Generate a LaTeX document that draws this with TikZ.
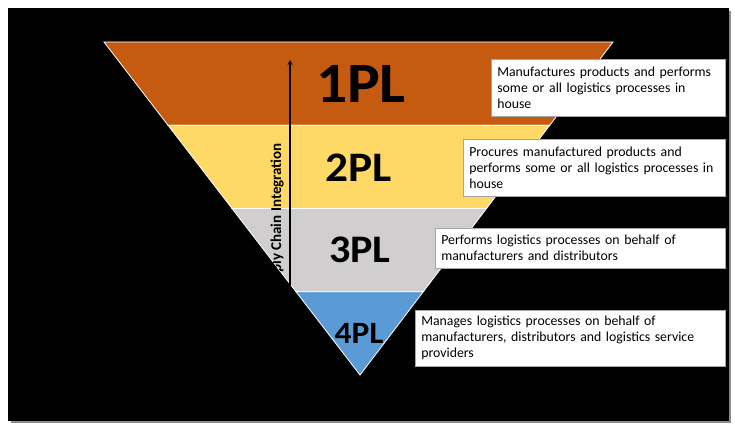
\documentclass[tikz,border=0pt]{standalone}
\usepackage{fontspec}
\setmainfont{Carlito}
\usetikzlibrary{arrows, positioning, calc}
\definecolor{onepl}{HTML}{C55A11}
\definecolor{twopl}{HTML}{FFD966}
\definecolor{threepl}{HTML}{D0CECE}
\definecolor{fourpl}{HTML}{5B9BD5}

\begin{document}
\begin{tikzpicture}[x=1pt, y=-1pt, >=stealth]
    % Styles
    \tikzstyle{band} = [draw=white, line width=0.8pt]
    \tikzstyle{level} = [font=\bfseries, text=black, inner sep=0pt, xscale=1.08]
    \tikzstyle{note} = [rectangle, draw=gray!70, fill=white, line width=0.6pt, anchor=west, align=left, inner xsep=6pt, inner ysep=2pt, font=\fontsize{13.8}{16}\selectfont]
    \tikzstyle{line} = [draw, line width=1.2pt, ->]

    % Frame
    \fill[white] (0,0) rectangle (735,430);
    \fill[black!45] (11,11) rectangle (731,423);
    \fill[black] (8,8) rectangle (729,421);

    % Pyramid corners
    \coordinate (tl) at (104,42);
    \coordinate (tr) at (613,42);
    \coordinate (apex) at (360,375);
    \coordinate (l1) at ($(tl)!0.25!(apex)$);
    \coordinate (r1) at ($(tr)!0.25!(apex)$);
    \coordinate (l2) at ($(tl)!0.5!(apex)$);
    \coordinate (r2) at ($(tr)!0.5!(apex)$);
    \coordinate (l3) at ($(tl)!0.75!(apex)$);
    \coordinate (r3) at ($(tr)!0.75!(apex)$);

    % Bands
    \path[band, fill=onepl] (tl) -- (tr) -- (r1) -- (l1) -- cycle;
    \path[band, fill=twopl] (l1) -- (r1) -- (r2) -- (l2) -- cycle;
    \path[band, fill=threepl] (l2) -- (r2) -- (r3) -- (l3) -- cycle;
    \path[band, fill=fourpl] (l3) -- (r3) -- (apex) -- cycle;

    % Levels
    \node[level, font=\bfseries\fontsize{57}{57}\selectfont] (one) at (361,83.5) {1PL};
    \node[level, font=\bfseries\fontsize{42}{42}\selectfont] (two) at (359,168) {2PL};
    \node[level, font=\bfseries\fontsize{39}{39}\selectfont] (three) at (360,250) {3PL};
    \node[level, font=\bfseries\fontsize{31}{31}\selectfont] (four) at (359,333) {4PL};

    % Integration arrow
    \coordinate (foot) at (290,287);
    \coordinate (tip) at (290,60);
    \path[line] (foot) -- (tip);
    \begin{scope}
        \clip (tl) -- (tr) -- (apex) -- cycle;
        \node[rotate=90, anchor=east, inner sep=0pt, font=\bfseries\fontsize{15}{17}\selectfont] (integ) at (277,143) {Supply Chain Integration};
    \end{scope}

    % Notes
    \node[note, text width=222pt, minimum height=57pt] (note1) at (491,87.5) {Manufactures products and performs\\some or all logistics processes in\\house};
    \node[note, text width=250pt, minimum height=57pt] (note2) at (463,167.5) {Procures manufactured products and\\performs some or all logistics processes in\\house};
    \node[note, text width=278pt, minimum height=40pt] (note3) at (435,248) {Performs logistics processes on behalf of\\manufacturers and distributors};
    \node[note, text width=298pt, minimum height=56pt] (note4) at (415,338) {Manages logistics processes on behalf of\\manufacturers, distributors and logistics service\\providers};
\end{tikzpicture}
\end{document}
